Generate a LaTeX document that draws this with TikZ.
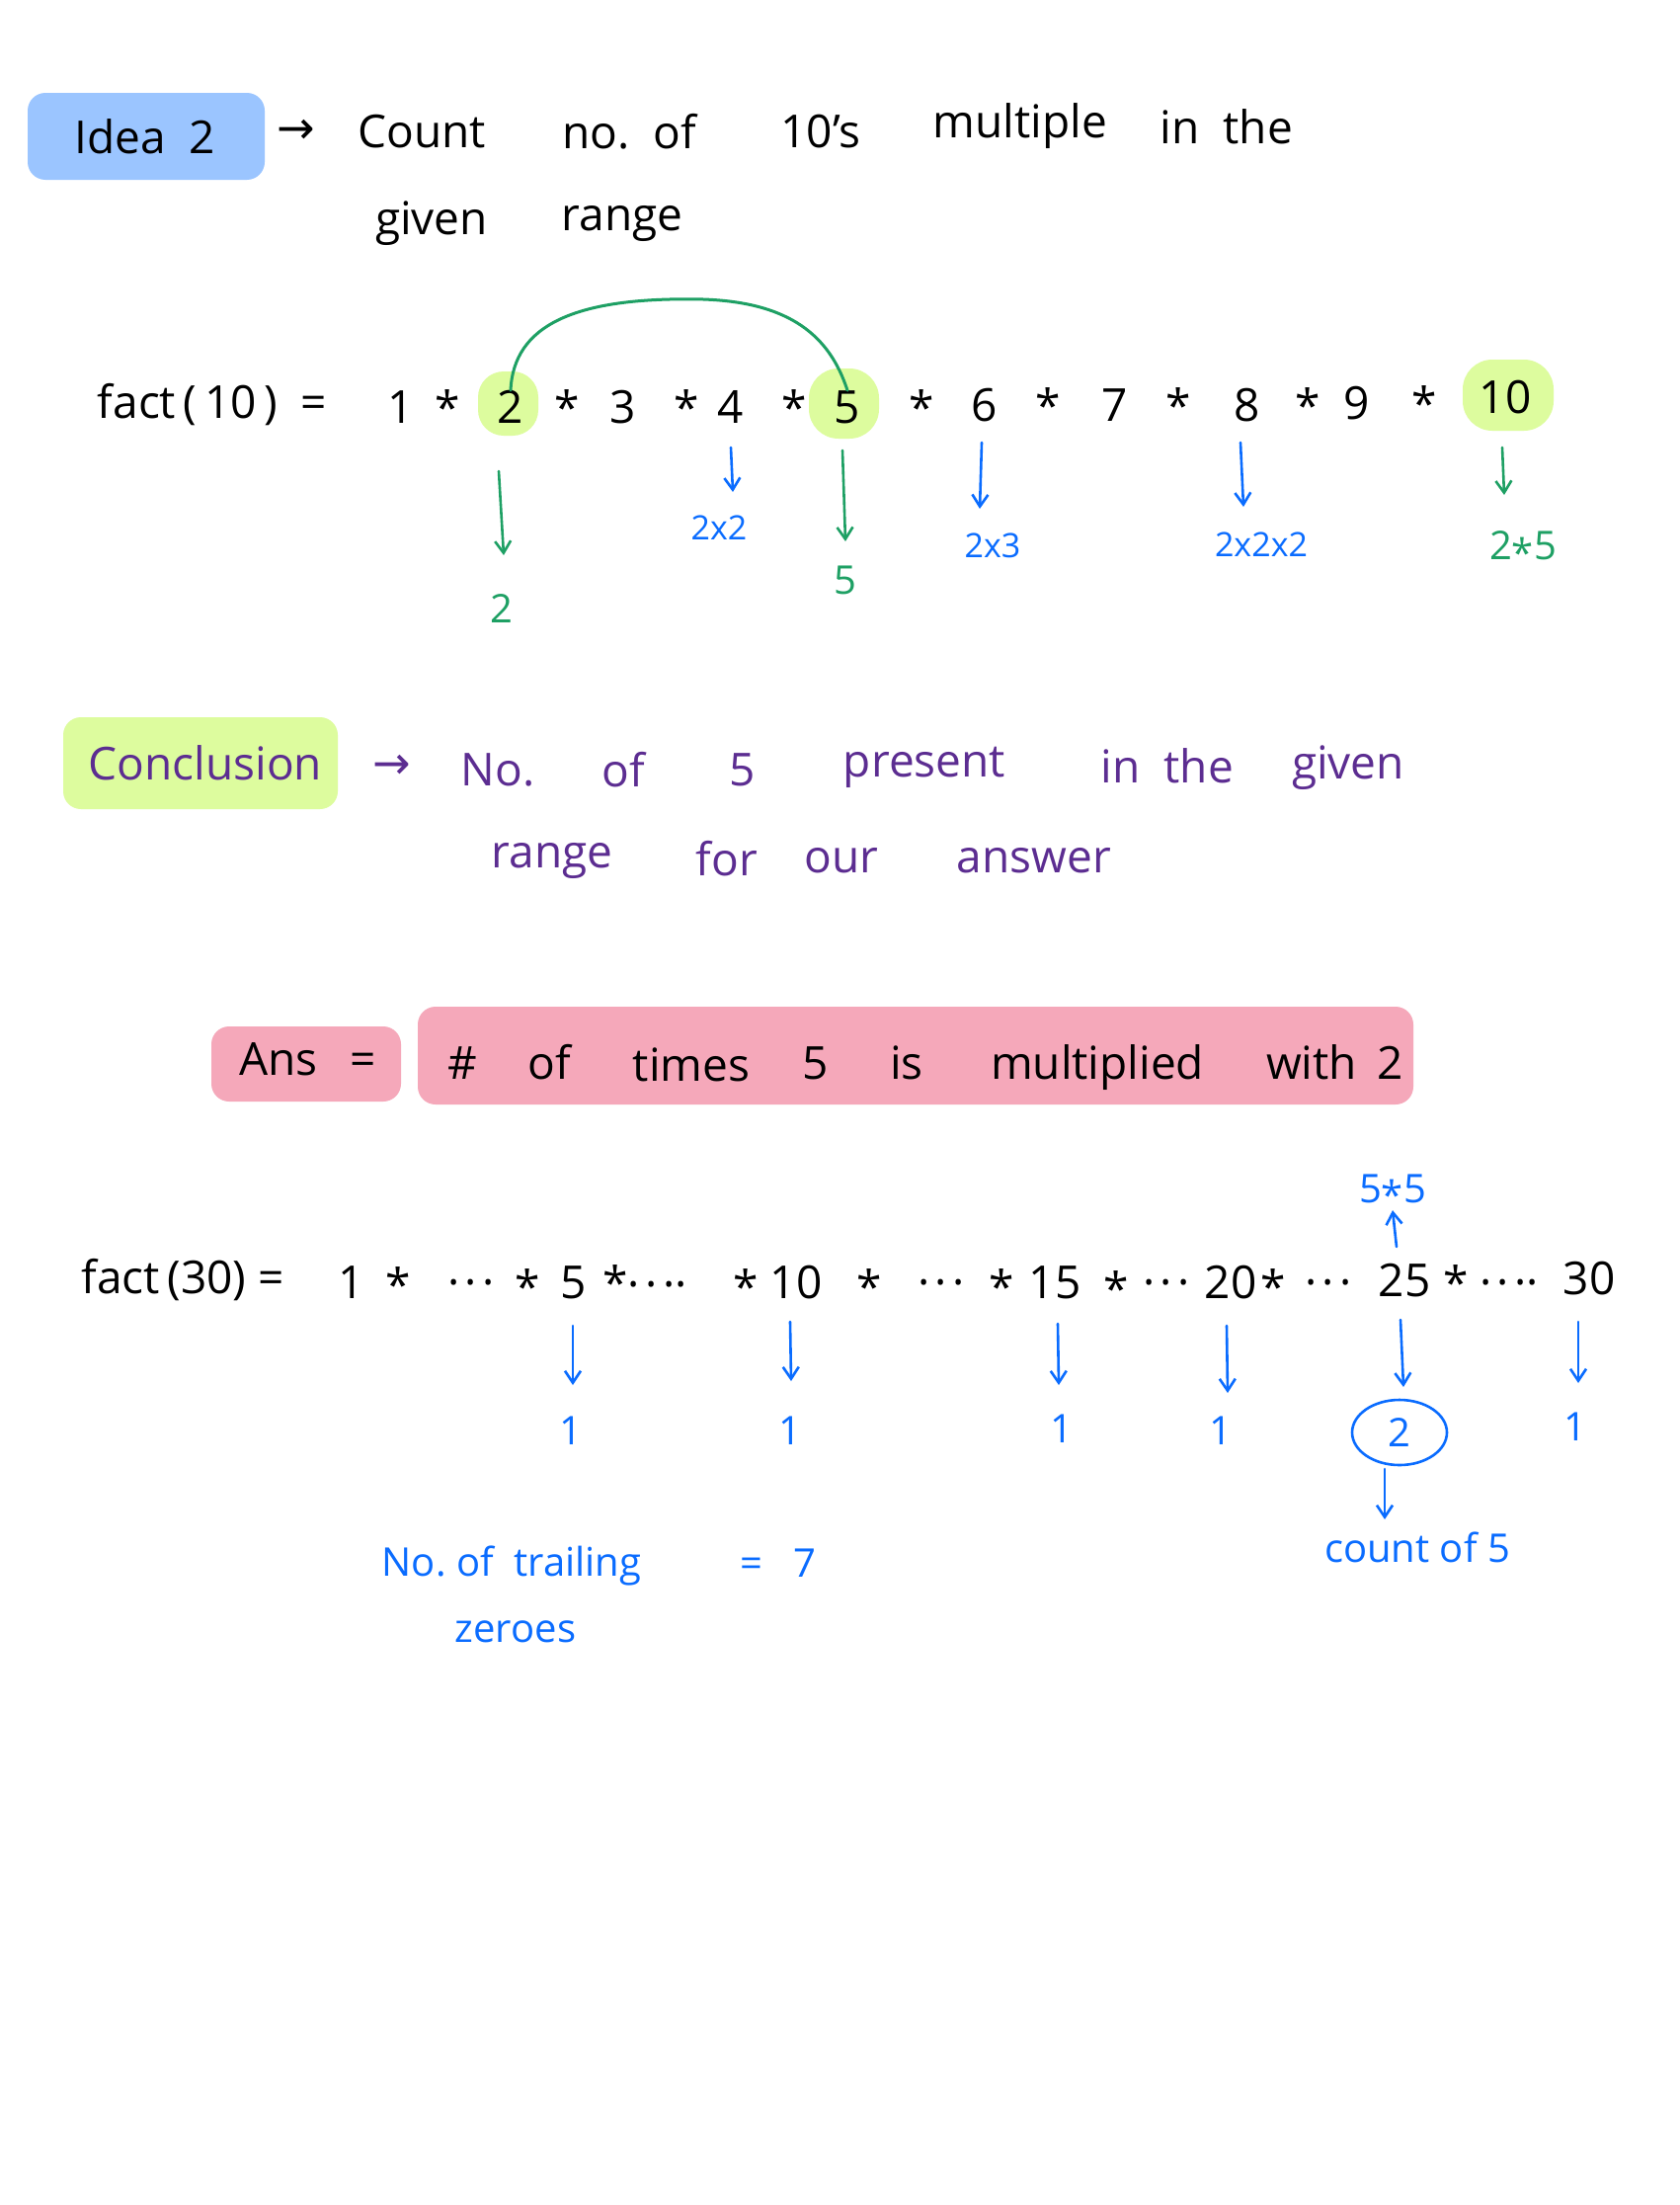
\documentclass[tikz,border=0pt]{standalone}
\usepackage{fontspec}
\setmainfont{Open Sans}
\newfontfamily\symfont{DejaVu Sans}
\usetikzlibrary{arrows.meta}
\definecolor{hlblue}{RGB}{155,197,255}
\definecolor{hlgreen}{RGB}{221,252,158}
\definecolor{hlpink}{RGB}{245,168,186}
\definecolor{inkblue}{RGB}{10,108,255}
\definecolor{inkgreen}{RGB}{30,160,100}
\definecolor{inkpurple}{RGB}{92,45,145}
\newcommand\stx{\raisebox{-0.28em}{*}}
\newcommand\stl{\raisebox{-0.18em}{*}}
\newcommand\dotx{.\kern0.12em.\kern0.12em.}
\tikzset{
  hl/.style={rounded corners=18pt},
  big/.style={font=\fontsize{46}{50}\selectfont, inner sep=0pt},
  mid/.style={font=\fontsize{40}{44}\selectfont, inner sep=0pt},
  sml/.style={font=\fontsize{34}{38}\selectfont, inner sep=0pt},
  darrow/.style={-{Straight Barb[length=12pt,width=16pt]}, line width=2.6pt, line cap=round},
  bl/.style={text=inkblue},
  gr/.style={text=inkgreen},
  pu/.style={text=inkpurple},
}
\begin{document}
\begin{tikzpicture}[x=1pt,y=-1pt]
\useasboundingbox (0,0) rectangle (1700,2232);
\fill[white] (0,0) rectangle (1700,2232);

% ---------- Idea 2 ----------
\fill[hlblue,hl] (28,94) rectangle (268,182);
\node[big] (idea) at (147,138) {Idea\ \ 2};
\node[big] (ar1) at (300,133) {\symfont →};
\node[big] (t1) at (427,133) {Count};
\node[big] (t2) at (637,133) {no.\ \ of};
\node[big] (t3) at (831,133) {10's};
\node[big] (t4) at (1033,128) {multiple};
\node[big] (t5) at (1242,128) {in\ \ the};
\node[big] (t6) at (437,226) {given};
\node[big] (t7) at (630,226) {range};

% ---------- fact(10) ----------
\fill[hlgreen,rounded corners=26pt] (484,376) rectangle (545,441);
\fill[hlgreen,rounded corners=30pt] (819,373) rectangle (890,444);
\fill[hlgreen,rounded corners=30pt] (1481,364) rectangle (1573,436);
\node[big] (f10) at (215,410) {fact\,(\,10\,)\ \ =};
\node[big] (n1) at (406,412) {1};
\node[big] at (453,412) {\stx};
\node[big] (n2) at (517,412) {2};
\node[big] at (574,412) {\stx};
\node[big] (n3) at (631,412) {3};
\node[big] at (695,412) {\stx};
\node[big] (n4) at (740,412) {4};
\node[big] at (804,412) {\stx};
\node[big] (n5) at (858,412) {5};
\node[big] at (933,412) {\stx};
\node[big] (n6) at (997,410) {6};
\node[big] at (1061,410) {\stx};
\node[big] (n7) at (1129,410) {7};
\node[big] at (1193,410) {\stx};
\node[big] (n8) at (1263,410) {8};
\node[big] at (1324,410) {\stx};
\node[big] (n9) at (1374,408) {9};
\node[big] at (1442,408) {\stx};
\node[big] (n10) at (1524,402) {10};

\draw[inkgreen,line width=3pt,line cap=round] (n2.north) .. controls (520,330) and (580,300) .. (712,303) .. controls (800,306) and (840,340) .. (n5.north);

\coordinate (a2s) at (505,477);
\node[mid,gr] (l2) at (508,616) {2};
\draw[darrow,inkgreen] (a2s) -- (510,562);
\coordinate (a4s) at (740,453);
\node[sml,bl] (l4) at (728,534) {2x2};
\draw[darrow,inkblue] (a4s) -- (742,498);
\coordinate (a5s) at (853,456);
\node[mid,gr] (l5) at (856,587) {5};
\draw[darrow,inkgreen] (a5s) -- (856,548);
\coordinate (a6s) at (994,448);
\node[sml,bl] (l6) at (1005,552) {2x3};
\draw[darrow,inkblue] (a6s) -- (992,515);
\coordinate (a8s) at (1256,448);
\node[sml,bl] (l8) at (1277,551) {2x2x2};
\draw[darrow,inkblue] (a8s) -- (1259,513);
\coordinate (a10s) at (1521,453);
\node[mid,gr] (l10) at (1542,556) {2\stl5};
\draw[darrow,inkgreen] (a10s) -- (1523,501);

% ---------- Conclusion ----------
\fill[hlgreen,hl] (64,726) rectangle (342,819);
\node[big,pu] (conc) at (208,772) {Conclusion};
\node[big,pu] (ar2) at (397,776) {\symfont →};
\node[big,pu] (c1) at (504,779) {No.};
\node[big,pu] (c2) at (631,779) {of};
\node[big,pu] (c3) at (752,779) {5};
\node[big,pu] (c4) at (936,777) {present};
\node[big,pu] (c5) at (1182,775) {in\ \ the};
\node[big,pu] (c6) at (1365,777) {given};
\node[big,pu] (c7) at (559,871) {range};
\node[big,pu] (c8) at (736,869) {for};
\node[big,pu] (c9) at (852,871) {our};
\node[big,pu] (c10) at (1047,871) {answer};

% ---------- Ans ----------
\fill[hlpink,hl] (214,1039) rectangle (406,1115);
\fill[hlpink,hl] (423,1019) rectangle (1431,1118);
\node[big,anchor=base] (ans) at (282,1088) {Ans};
\node[big,anchor=base] (anseq) at (368,1088) {=};
\node[big,anchor=base] (w1) at (468,1092) {\#};
\node[big,anchor=base] (w2) at (556,1092) {of};
\node[big,anchor=base] (w3) at (700,1094) {times};
\node[big,anchor=base] (w4) at (826,1092) {5};
\node[big,anchor=base] (w5) at (918,1092) {is};
\node[big,anchor=base] (w6) at (1111,1092) {multiplied};
\node[big,anchor=base] (w7) at (1328,1092) {with};
\node[big,anchor=base] (w8) at (1408,1092) {2};

% ---------- fact(30) ----------
\node[big] (f30) at (185,1296) {fact\,(30)\ =};
\node[big] (m1) at (356,1298) {1};
\node[big] at (403,1300) {\stx};
\node[big] at (477,1298) {\dotx};
\node[big] at (534,1302) {\stx};
\node[big] (m5) at (581,1298) {5};
\node[big] at (653,1298) {\stx\dotx.};
\node[big] at (755,1302) {\stx};
\node[big] (m10) at (806,1298) {10};
\node[big] at (880,1302) {\stx};
\node[big] at (953,1298) {\dotx};
\node[big] at (1014,1302) {\stx};
\node[big] (m15) at (1068,1298) {15};
\node[big] at (1130,1304) {\stx};
\node[big] at (1181,1298) {\dotx};
\node[big] (m20) at (1246,1298) {20};
\node[big] at (1289,1302) {\stx};
\node[big] at (1345,1298) {\dotx};
\node[big] (m25) at (1422,1296) {25};
\node[big] at (1474,1298) {\stx};
\node[big] at (1528,1298) {\dotx.};
\node[big] (m30) at (1609,1294) {30};

\node[mid,bl] (s55) at (1410,1207) {5\stl5};
\draw[darrow,inkblue] (1414,1262) -- (s55.south);

\node[mid,bl] (o5) at (578,1448) {1};
\node[mid,bl] (o10) at (800,1448) {1};
\node[mid,bl] (o15) at (1075,1446) {1};
\node[mid,bl] (o20) at (1236,1448) {1};
\node[mid,bl] (o25) at (1417,1450) {2};
\node[mid,bl] (o30) at (1595,1444) {1};
\draw[inkblue,line width=2.6pt] (o25) ellipse (48pt and 33pt);

\draw[darrow,inkblue] (580,1342) -- (580,1402);
\draw[darrow,inkblue] (800,1338) -- (801,1398);
\draw[darrow,inkblue] (1071,1340) -- (1072,1402);
\draw[darrow,inkblue] (1242,1342) -- (1243,1410);
\draw[darrow,inkblue] (1418,1336) -- (1421,1404);
\draw[darrow,inkblue] (1598,1338) -- (1598,1400);

\coordinate (cs) at (1402,1487);
\node[mid,bl] (cnt) at (1435,1566) {count of 5};
\draw[darrow,inkblue] (cs) -- (1402,1538);

\node[mid,bl] (nt) at (518,1585) {No.\ of\ \ trailing};
\node[mid,bl] (eq7) at (788,1582) {=\ \ \ 7};
\node[mid,bl] (zr) at (522,1652) {zeroes};
\end{tikzpicture}
\end{document}
